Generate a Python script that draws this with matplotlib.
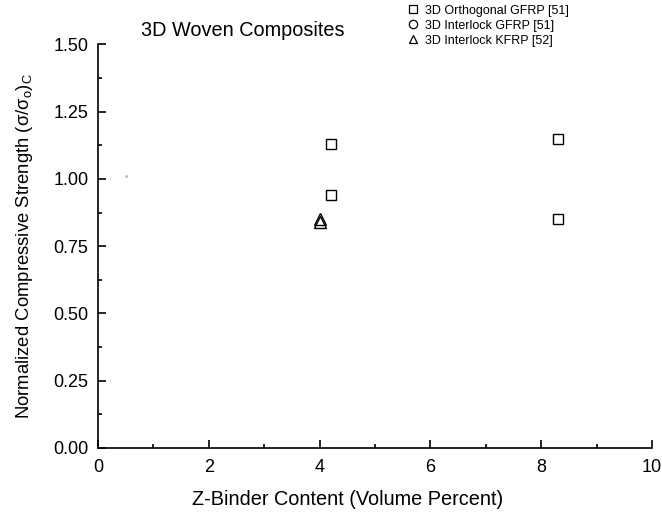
import matplotlib
matplotlib.use('Agg')
import matplotlib.pyplot as plt
from matplotlib.ticker import MultipleLocator, FormatStrFormatter

plt.rcParams['font.family'] = ['Liberation Sans', 'DejaVu Sans']
plt.rcParams['mathtext.fontset'] = 'custom'
plt.rcParams['mathtext.rm'] = 'Liberation Sans'
plt.rcParams['mathtext.it'] = 'Liberation Sans'
plt.rcParams['mathtext.default'] = 'regular'

# data
orth_x = [4.2, 4.2, 8.3, 8.3]
orth_y = [1.13, 0.94, 1.15, 0.85]
inter_g_x = [0.5]
inter_g_y = [1.01]
inter_k_x = [4.0, 4.0]
inter_k_y = [0.85, 0.84]

fig = plt.figure(figsize=(6.62, 5.16), dpi=100)
ax = fig.add_axes([0.1480, 0.132, 0.8369, 0.782])

ax.plot(orth_x, orth_y, 's', mfc='none', mec='black', ms=7, mew=1, label='3D Orthogonal GFRP [51]')
ax.plot(inter_g_x, inter_g_y, 'o', mfc='none', mec='#999999', ms=1.2, mew=0.6, label='3D Interlock GFRP [51]')
ax.plot(inter_k_x, inter_k_y, '^', mfc='none', mec='black', ms=9, mew=1, label='3D Interlock KFRP [52]')

ax.set_xlim(0, 10)
ax.set_ylim(0, 1.5)
ax.xaxis.set_major_locator(MultipleLocator(2))
ax.xaxis.set_minor_locator(MultipleLocator(1))
ax.yaxis.set_major_locator(MultipleLocator(0.25))
ax.yaxis.set_minor_locator(MultipleLocator(0.125))
ax.yaxis.set_major_formatter(FormatStrFormatter('%.2f'))
ax.tick_params(which='both', direction='in', width=1.2, labelsize=13)
ax.tick_params(which='major', length=6)
ax.tick_params(axis='x', which='major', pad=8)
ax.tick_params(axis='y', which='major', pad=7)
ax.tick_params(which='minor', length=3)
ax.spines['top'].set_visible(False)
ax.spines['right'].set_visible(False)
ax.spines['left'].set_linewidth(1.2)
ax.spines['bottom'].set_linewidth(1.2)

ax.set_xlabel('Z-Binder Content (Volume Percent)', fontsize=14.3, labelpad=10)
ax.xaxis.label.set_x(0.45)
ax.set_ylabel(r'Normalized Compressive Strength $(\sigma/\sigma_o)_C$', fontsize=13.3, labelpad=13)
fig.text(0.367, 0.940, '3D Woven Composites', fontsize=14.3, ha='center', va='center')

handles, labels = ax.get_legend_handles_labels()
h2 = []
for h in handles:
    h2.append(plt.Line2D([], [], marker=h.get_marker(), ls='none', mfc='none', mec='black', ms=6, mew=0.9))
fig.legend(h2, labels, loc='upper left', bbox_to_anchor=(0.60, 1.008), frameon=False,
           fontsize=9, handletextpad=0.3, labelspacing=0.25, borderpad=0.2, handlelength=1.2)

plt.savefig('out.png', dpi=100)
